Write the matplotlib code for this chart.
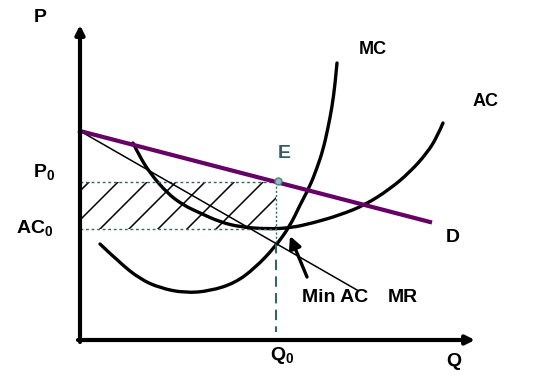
import numpy as np
import matplotlib
matplotlib.use("Agg")
import matplotlib.pyplot as plt
from matplotlib.patches import Rectangle, PathPatch
from matplotlib.path import Path

plt.rcParams["font.family"] = ["Liberation Sans", "DejaVu Sans"]
plt.rcParams["font.weight"] = "bold"
plt.rcParams["mathtext.fontset"] = "custom"
plt.rcParams["mathtext.rm"] = "Liberation Sans:bold"
plt.rcParams["mathtext.it"] = "Liberation Sans:bold"
plt.rcParams["mathtext.bf"] = "Liberation Sans:bold"

# curves (Q, P)
mc_q = [20, 40, 60, 80, 105, 130, 155, 175, 195, 210, 220, 230, 237, 243, 248, 252, 255, 257]
mc_p = [96, 77, 61, 52, 47, 49, 57, 72, 93, 114, 135, 154, 172, 190, 212, 233, 255, 277]

ac_q = [53, 60, 70, 87, 103, 120, 140, 160, 187, 210, 233, 260, 285, 310, 330, 347, 357, 363]
ac_p = [197, 183, 167, 147, 135, 127, 118, 113, 111, 112, 117, 125, 135, 151, 168, 187, 203, 217]

d_q = [0, 350]
d_p = [209, 118]
mr_q = [0, 277]
mr_p = [209, 50]

q0 = 196
p0 = 158
ac0 = 111


def smooth_path(xs, ys):
    # quadratic B-spline through the read points, drawn by matplotlib's Path
    pts = np.column_stack([xs, ys]).astype(float)
    verts = [pts[0]]
    codes = [Path.MOVETO]
    for i in range(1, len(pts) - 1):
        end = pts[i + 1] if i == len(pts) - 2 else (pts[i] + pts[i + 1]) / 2
        verts += [pts[i], end]
        codes += [Path.CURVE3, Path.CURVE3]
    return Path(verts, codes)


fig = plt.figure(figsize=(5.56, 3.81), dpi=100)
ax = fig.add_axes([0, 0, 1, 1])
ax.set_xlim(-80, 476)
ax.set_ylim(-41, 340)
ax.axis("off")

teal = "#336666"

# shaded loss area
rect = Rectangle((0, ac0), q0, p0 - ac0, fill=False, lw=0)
ax.add_patch(rect)
h = p0 - ac0
for b in np.arange(20 - 29 * 3, q0 + 29, 29):
    ln, = ax.plot([b, b + h], [ac0, p0], color="k", lw=1.1)
    ln.set_clip_path(rect)

ax.plot([0, q0], [p0, p0], color=teal, lw=1, ls=(0, (2, 2)))
ax.plot([0, q0], [ac0, ac0], color=teal, lw=1, ls=(0, (2, 2)))
ax.plot([q0, q0], [p0, 97], color=teal, lw=1, ls=(0, (1.5, 1.5)))
ax.plot([q0, q0], [97, 8], color=teal, lw=1.5, ls=(0, (5, 3)))

ax.plot(mr_q, mr_p, color="k", lw=1.1)
ax.add_patch(PathPatch(smooth_path(mc_q, mc_p), fill=False, lw=2.4, ec="k", capstyle="round"))
ax.add_patch(PathPatch(smooth_path(ac_q, ac_p), fill=False, lw=2.4, ec="k", capstyle="round"))
ax.plot(d_q, d_p, color="#660066", lw=3)
ax.plot([q0 + 2], [p0 + 1], "o", ms=5, mfc="#8fbcbc", mec="#4f8080", mew=1)

# axes with arrows
ax.annotate("", xy=(0, 315), xytext=(0, -2),
            arrowprops=dict(arrowstyle="-|>", lw=3, color="k", mutation_scale=13,
                            shrinkA=0, shrinkB=0))
ax.annotate("", xy=(395, 0), xytext=(-2, 0),
            arrowprops=dict(arrowstyle="-|>", lw=3, color="k", mutation_scale=13,
                            shrinkA=0, shrinkB=0))

# Min AC pointer
ax.annotate("", xy=(210, 104), xytext=(227, 63),
            arrowprops=dict(arrowstyle="-|>", lw=2.4, color="k", mutation_scale=18,
                            shrinkA=0, shrinkB=0))

kw = dict(ha="center", va="center", fontweight="bold")
ax.text(-40, 322, "P", fontsize=14, **kw)
ax.text(293, 290, "MC", fontsize=13, **kw)
ax.text(406, 238, "AC", fontsize=13, **kw)
ax.text(204, 186, "E", fontsize=14, color="#2f5f5f", **kw)
ax.text(-36, 168, r"$\mathrm{P_0}$", fontsize=14, **kw)
ax.text(-45, 112, r"$\mathrm{AC_0}$", fontsize=14, **kw)
ax.text(373, 103, "D", fontsize=14, **kw)
ax.text(255, 43, "Min AC", fontsize=14, **kw)
ax.text(323, 43, "MR", fontsize=14, **kw)
ax.text(202, -15, r"$\mathrm{Q_0}$", fontsize=14, **kw)
ax.text(374, -21, "Q", fontsize=14, **kw)

fig.savefig("out.png", dpi=100)
